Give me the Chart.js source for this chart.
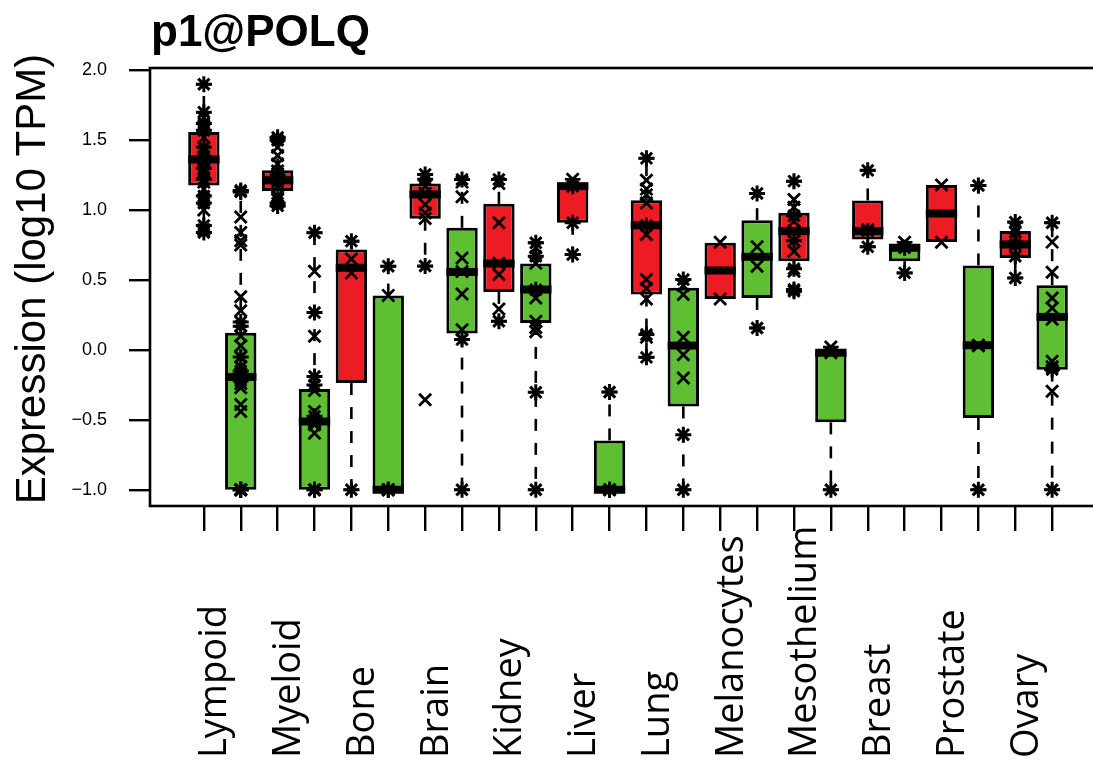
<!DOCTYPE html>
<html>
<head>
<meta charset="utf-8">
<title>p1@POLQ</title>
<script src="https://cdn.jsdelivr.net/npm/chart.js@4.4.1/dist/chart.umd.min.js"></script>
<style>
  html, body { margin: 0; padding: 0; overflow: hidden; background: #ffffff; }
  #wrap { position: relative; width: 1120px; height: 764px; }
</style>
</head>
<body>
<div id="wrap"><canvas id="c"></canvas></div>
<script>
// Tissue groups; each group has two boxes (first red, then green)
const tissues = ['Lympoid', 'Myeloid', 'Bone', 'Brain', 'Kidney', 'Liver',
                 'Lung', 'Melanocytes', 'Mesothelium', 'Breast', 'Prostate', 'Ovary'];

// Box positions on the x axis (1..24)
const boxIndex = [1, 2, 3, 4, 5, 6, 7, 8, 9, 10, 11, 12,
                  13, 14, 15, 16, 17, 18, 19, 20, 21, 22, 23, 24];

// Box statistics, log10 TPM
const lowerQuartile = [1.176, -1.0, 1.136, -1.0, -0.237, -1.0, 0.938, 0.117, 0.415, 0.193, 0.909, -1.0,
                       0.396, -0.404, 0.365, 0.372, 0.635, -0.518, 0.79, 0.635, 0.771, -0.487, 0.658, -0.141];
const median        = [1.362, -0.193, 1.214, -0.511, 0.587, -1.0, 1.112, 0.558, 0.618, 0.432, 1.171, -1.0,
                       0.892, 0.031, 0.568, 0.666, 0.85, -0.02, 0.85, 0.73, 0.976, 0.033, 0.754, 0.236];
const upperQuartile = [1.558, 0.122, 1.284, -0.28, 0.718, 0.389, 1.19, 0.873, 1.045, 0.618, 1.196, -0.647,
                       1.071, 0.444, 0.766, 0.928, 0.981, -0.01, 1.069, 0.754, 1.179, 0.604, 0.85, 0.463];
const whiskerLow    = [0.84, -1.0, 1.03, -1.0, -1.0, -1.0, 0.599, -1.0, 0.205, -1.0, 0.682, -1.0,
                       -0.053, -1.0, 0.365, 0.157, 0.42, -1.0, 0.737, 0.551, 0.771, -1.0, 0.515, -1.0];
const whiskerHigh   = [1.90, 1.14, 1.518, 0.838, 0.778, 0.599, 1.255, 1.219, 1.219, 0.766, 1.22, -0.301,
                       1.37, 0.503, 0.766, 1.119, 1.207, 0.021, 1.284, 0.77, 1.179, 1.176, 0.914, 0.909];

// Individual samples, drawn as asterisks
const starValues = [
  [1.90, 1.70, 1.62, 1.57, 1.45, 1.38, 1.30, 1.22, 1.10, 1.05, 0.89, 0.84],
  [1.14, 1.13, 0.20, 0.17, -0.05, -0.15, -0.22, -1.0, -1.0, -1.0],
  [1.52, 1.50, 1.25, 1.20, 1.05, 1.03],
  [0.838, 0.267, -0.19, -0.25, -0.475, -1.0, -1.0],
  [0.778, -1.0],
  [0.599, -1.0, -1.0],
  [1.255, 1.22, 0.60],
  [1.219, 0.074, -1.0],
  [1.219, 0.205],
  [0.766, 0.67, 0.43, -0.303, -1.0],
  [1.17, 0.909, 0.682],
  [-0.301, -1.0, -1.0],
  [1.37, 0.89, 0.11, -0.053],
  [0.503, -0.606, -1.0],
  [],
  [1.119, 0.157],
  [1.207, 0.96, 0.78, 0.58, 0.432, 0.42],
  [-1.0],
  [1.284, 0.85, 0.737],
  [0.551, 0.73],
  [],
  [1.176, -1.0],
  [0.914, 0.84, 0.75, 0.67, 0.515],
  [0.909, -0.14, -1.0]
];

// Individual samples, drawn as crosses
const crossValues = [
  [1.66, 1.60, 1.52, 1.42, 1.36, 1.33, 1.27, 1.20, 1.15, 1.00, 0.86],
  [0.95, 0.84, 0.78, 0.75, 0.38, 0.28, 0.10, 0.03, -0.05, -0.12, -0.17, -0.24, -0.27, -0.39, -0.44, -1.0, -1.0],
  [1.45, 1.39, 1.33, 1.28, 1.22, 1.16, 1.10, 1.076],
  [0.563, 0.098, -0.29, -0.44, -0.51, -0.535, -0.595, -1.0],
  [0.65, 0.551],
  [0.39, -1.0, -1.0],
  [1.17, 1.12, 1.04, 0.98, 0.94, -0.356],
  [1.2, 1.095, 0.658, 0.56, 0.40, 0.145],
  [1.19, 0.909, 0.62, 0.539, 0.293],
  [0.73, 0.62, 0.372, 0.205, 0.16, 0.13],
  [1.22],
  [-1.0],
  [1.214, 1.15, 1.11, 1.05, 0.826, 0.503, 0.44, 0.365, 0.09],
  [0.46, 0.396, 0.09, -0.034, -0.2],
  [0.77, 0.365],
  [0.737, 0.599],
  [1.076, 1.02, 0.92, 0.85, 0.706, 0.563],
  [0.021, -0.02],
  [0.86],
  [0.77],
  [1.18, 0.77],
  [0.033, 0.03],
  [0.87, 0.80],
  [0.771, 0.556, 0.372, 0.30, 0.22, -0.081, -0.12, -0.296]
];

// Y axis tick values
const yTicks = [-1.0, -0.5, 0.0, 0.5, 1.0, 1.5, 2.0];

const RED = '#ED1C24';
const GREEN = '#5FBF33';
const INK = '#000000';

const boxData = boxIndex.map((x, i) => ({ x: x, y: [lowerQuartile[i], upperQuartile[i]] }));
const starData = boxIndex.flatMap((x, i) => starValues[i].map(v => ({ x: x, y: v })));
const crossData = boxIndex.flatMap((x, i) => crossValues[i].map(v => ({ x: x, y: v })));

const BOX_DATASET = 2;

// Whiskers, staples and medians for each box
const boxDecor = {
  id: 'boxDecor',
  afterDatasetDraw(chart, args) {
    if (args.index !== BOX_DATASET) return;
    const ctx = chart.ctx;
    const ys = chart.scales.y;
    ctx.save();
    ctx.strokeStyle = INK;
    args.meta.data.forEach((el, i) => {
      const x = el.x;
      const hw = el.width / 2;
      const pLo = ys.getPixelForValue(whiskerLow[i]);
      const pHi = ys.getPixelForValue(whiskerHigh[i]);
      const pQ1 = ys.getPixelForValue(lowerQuartile[i]);
      const pQ3 = ys.getPixelForValue(upperQuartile[i]);
      const pMed = ys.getPixelForValue(median[i]);
      ctx.lineWidth = 2.6;
      ctx.lineCap = 'butt';
      ctx.setLineDash([12, 12]);
      if (whiskerHigh[i] > upperQuartile[i]) {
        ctx.beginPath(); ctx.moveTo(x, pQ3); ctx.lineTo(x, pHi); ctx.stroke();
      }
      if (whiskerLow[i] < lowerQuartile[i]) {
        ctx.beginPath(); ctx.moveTo(x, pQ1); ctx.lineTo(x, pLo); ctx.stroke();
      }
      ctx.setLineDash([]);
      const sw = hw / 2;
      if (whiskerHigh[i] > upperQuartile[i]) {
        ctx.beginPath(); ctx.moveTo(x - sw, pHi); ctx.lineTo(x + sw, pHi); ctx.stroke();
      }
      if (whiskerLow[i] < lowerQuartile[i]) {
        ctx.beginPath(); ctx.moveTo(x - sw, pLo); ctx.lineTo(x + sw, pLo); ctx.stroke();
      }
      ctx.lineWidth = 8;
      ctx.beginPath(); ctx.moveTo(x - hw, pMed); ctx.lineTo(x + hw, pMed); ctx.stroke();
    });
    ctx.restore();
  }
};

// Plot frame, title, y-axis title and group labels
const frameAndText = {
  id: 'frameAndText',
  afterDraw(chart) {
    const ctx = chart.ctx;
    const a = chart.chartArea;
    const xs = chart.scales.x;
    ctx.save();
    ctx.strokeStyle = INK;
    ctx.lineWidth = 2.6;
    ctx.strokeRect(a.left, a.top, a.right - a.left, a.bottom - a.top);

    ctx.fillStyle = INK;
    ctx.font = 'bold 44px "Liberation Sans", Arial, sans-serif';
    ctx.textAlign = 'left';
    ctx.textBaseline = 'alphabetic';
    ctx.fillText('p1@POLQ', 151, 46);

    ctx.save();
    ctx.translate(45, (a.top + a.bottom) / 2 - 8);
    ctx.rotate(-Math.PI / 2);
    ctx.font = '42px "Liberation Sans", Arial, sans-serif';
    ctx.textAlign = 'center';
    ctx.fillText('Expression (log10 TPM)', 0, 0);
    ctx.restore();

    ctx.font = '38px "Open Sans", sans-serif';
    ctx.textAlign = 'left';
    tissues.forEach((name, k) => {
      const xm = xs.getPixelForValue(2 * k + 1.5) + 4;
      ctx.save();
      ctx.translate(xm, 758);
      ctx.rotate(-Math.PI / 2);
      ctx.fillText(name, 0, 0);
      ctx.restore();
    });
    ctx.restore();
  }
};

new Chart(document.getElementById('c'), {
  type: 'bar',
  data: {
    datasets: [
      {
        type: 'scatter',
        label: 'asterisk',
        data: starData,
        pointStyle: 'star',
        radius: 8,
        borderColor: INK,
        backgroundColor: INK,
        borderWidth: 3,
        order: 0
      },
      {
        type: 'scatter',
        label: 'cross',
        data: crossData,
        pointStyle: 'crossRot',
        radius: 8.5,
        borderColor: INK,
        backgroundColor: INK,
        borderWidth: 2.8,
        order: 0
      },
      {
        type: 'bar',
        label: 'box',
        data: boxData,
        backgroundColor: boxIndex.map((x, i) => (i % 2 === 0 ? RED : GREEN)),
        borderColor: INK,
        borderWidth: 3,
        borderSkipped: false,
        categoryPercentage: 1.0,
        barPercentage: 0.85,
        order: 2
      }
    ]
  },
  options: {
    responsive: true,
    maintainAspectRatio: false,
    animation: false,
    events: [],
    layout: { padding: { top: 68, right: 14, left: 0, bottom: 0 } },
    plugins: {
      legend: { display: false },
      tooltip: { enabled: false },
      title: { display: false }
    },
    scales: {
      x: {
        type: 'linear',
        min: -0.46,
        max: 25.46,
        offset: false,
        afterBuildTicks(scale) { scale.ticks = boxIndex.map(v => ({ value: v })); },
        afterFit(scale) { scale.height = 258; },
        border: { display: false },
        grid: {
          offset: false,
          drawOnChartArea: false,
          drawTicks: true,
          tickLength: 25,
          color: INK,
          lineWidth: 2.4
        },
        ticks: { callback: () => '', padding: 0 }
      },
      y: {
        type: 'linear',
        min: -1.116,
        max: 2.016,
        afterBuildTicks(scale) { scale.ticks = yTicks.map(v => ({ value: v })); },
        afterFit(scale) { scale.width = 150; },
        border: { display: false },
        grid: {
          drawOnChartArea: false,
          drawTicks: true,
          tickLength: 21,
          color: INK,
          lineWidth: 2.4
        },
        ticks: {
          color: INK,
          padding: 22,
          font: { family: '"Liberation Sans", Arial, sans-serif', size: 18 },
          callback: v => v.toFixed(1).replace('-', '\u2212')
        }
      }
    }
  },
  plugins: [boxDecor, frameAndText]
});
</script>
</body>
</html>
